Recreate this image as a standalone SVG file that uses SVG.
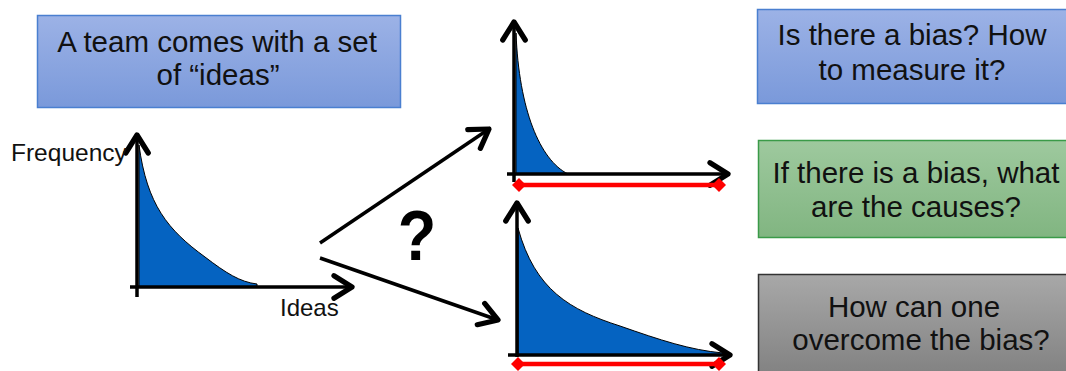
<svg xmlns="http://www.w3.org/2000/svg" width="1066" height="371" viewBox="0 0 1066 371">
<style>
.t{font-family:"Liberation Sans",Arial,sans-serif;font-size:29.5px;fill:#111;text-anchor:middle}
.lbl{font-family:"Liberation Sans",Arial,sans-serif;font-size:24px;fill:#111}
.ax{stroke:#000;stroke-width:3.5;fill:none;marker-end:url(#chev)}
.ar{stroke:#000;stroke-width:3.5;fill:none;marker-end:url(#chev)}
.curve{fill:#0563c1;stroke:#000;stroke-width:1}
.red{stroke:#ff0000;stroke-width:4.5;fill:none;marker-start:url(#dia);marker-end:url(#dia)}
</style>
<defs>
<linearGradient id="gBlue" x1="0" y1="0" x2="0" y2="1"><stop offset="0" stop-color="#9cb2e6"/><stop offset="1" stop-color="#7a99da"/></linearGradient>
<linearGradient id="gGreen" x1="0" y1="0" x2="0" y2="1"><stop offset="0" stop-color="#9ec99e"/><stop offset="1" stop-color="#81b581"/></linearGradient>
<linearGradient id="gGray" x1="0" y1="0" x2="0" y2="1"><stop offset="0" stop-color="#a8a8a8"/><stop offset="1" stop-color="#808080"/></linearGradient>
<marker id="chev" markerUnits="userSpaceOnUse" markerWidth="30" markerHeight="30" viewBox="-16 -10 20 20" refX="0" refY="0" orient="auto" overflow="visible">
<path d="M-12,-7.5 L0,0 L-12,7.5" fill="none" stroke="#000" stroke-width="3.5" stroke-linecap="round" stroke-linejoin="round"/>
</marker>
<marker id="dia" markerUnits="userSpaceOnUse" markerWidth="16" markerHeight="16" viewBox="-8 -8 16 16" refX="0" refY="0" orient="0" overflow="visible">
<path d="M0,-7 L7,0 L0,7 L-7,0 Z" fill="#ff0000"/>
</marker>
</defs>

<g id="box-team">
<rect x="37.5" y="15.5" width="363" height="92" fill="url(#gBlue)" stroke="#4a7fd0" stroke-width="1.5"/>
<text class="t" x="217" y="52">A team comes with a set</text>
<text class="t" x="218" y="85">of “ideas”</text>
</g>

<g id="chart-original">
<path class="curve" d="M139,145 C147,205 168,230 205,257 C226,273 240,282 257,284 L257,287 L139,287 Z"/>
<line class="ax" x1="137" y1="297" x2="137" y2="135"/>
<line class="ax" x1="130" y1="287" x2="352" y2="287"/>
<text class="lbl" x="11" y="161" style="font-size:24.5px">Frequency</text>
<text class="lbl" x="280" y="316">Ideas</text>
</g>

<g id="connectors">
<line class="ar" x1="320" y1="243" x2="489" y2="129"/>
<line class="ar" x1="320" y1="258" x2="498" y2="320"/>
</g>

<g id="question">
<text transform="translate(417,260) scale(1.05,1.18)" x="0" y="0" font-family="Liberation Sans,Arial,sans-serif" font-weight="bold" font-size="60" text-anchor="middle" fill="#000">?</text>
</g>

<g id="chart-narrow">
<path class="curve" d="M516,33 C519,110 540,160 568,174 L516,174 Z"/>
<line class="ax" x1="514" y1="182" x2="514" y2="22"/>
<line class="ax" x1="507" y1="174" x2="728" y2="174"/>
<line class="red" x1="519" y1="185" x2="719" y2="185"/>
</g>

<g id="chart-wide">
<path class="curve" d="M518,228 C535,290 570,310 620,326 C660,340 690,350 723,353 L723,355 L518,355 Z"/>
<line class="ax" x1="517" y1="357" x2="517" y2="203"/>
<line class="ax" x1="508" y1="355" x2="730" y2="355"/>
<line class="red" x1="518" y1="364" x2="719" y2="364"/>
</g>

<g id="box-measure">
<rect x="757.5" y="9.5" width="315" height="94" fill="url(#gBlue)" stroke="#4a7fd0" stroke-width="1.5"/>
<text class="t" x="912" y="45">Is there a bias? How</text>
<text class="t" x="912" y="80">to measure it?</text>
</g>

<g id="box-causes">
<rect x="758.5" y="140.5" width="315" height="97" fill="url(#gGreen)" stroke="#3a9a48" stroke-width="1.5"/>
<text class="t" x="916" y="183">If there is a bias, what</text>
<text class="t" x="916" y="217">are the causes?</text>
</g>

<g id="box-overcome">
<rect x="758.5" y="274.5" width="315" height="105" fill="url(#gGray)" stroke="#333" stroke-width="1.5"/>
<text class="t" x="914" y="317">How can one</text>
<text class="t" x="921" y="350">overcome the bias?</text>
</g>
</svg>
